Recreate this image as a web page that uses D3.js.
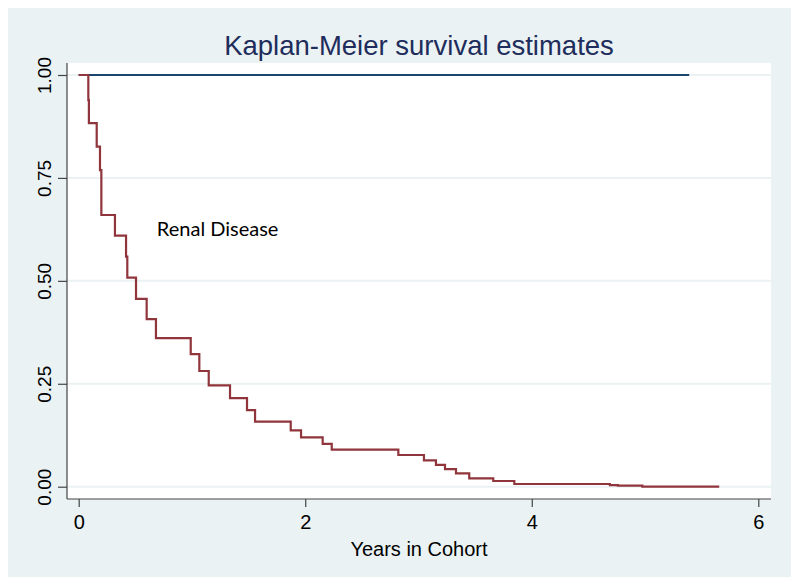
<!DOCTYPE html>
<html>
<head>
<meta charset="utf-8">
<script src="https://cdn.jsdelivr.net/npm/d3@7"></script>
<style>
  html, body { margin: 0; padding: 0; background: #ffffff; }
  svg { display: block; }
</style>
</head>
<body>
<svg id="chart" width="800" height="586"></svg>
<script>
// ---- Data ----
const title = "Kaplan-Meier survival estimates";
const xTitle = "Years in Cohort";
const xTicks = [0, 2, 4, 6];
const yTicks = [0, 0.25, 0.5, 0.75, 1];
const yTickLabels = ["0.00", "0.25", "0.50", "0.75", "1.00"];

// Renal Disease group: event times (years) and survival after each step
const renalTimes = [0, 0.085, 0.09, 0.159, 0.188, 0.20, 0.32, 0.418, 0.429, 0.506, 0.60, 0.682,
  0.989, 1.065, 1.148, 1.336, 1.486, 1.557, 1.872, 1.963, 2.154, 2.234, 2.822, 3.048,
  3.154, 3.234, 3.331, 3.448, 3.660, 3.846, 4.69, 4.76, 4.976, 5.655];
const renalSurv = [1, 0.939, 0.883, 0.826, 0.769, 0.66, 0.61, 0.559, 0.508, 0.456, 0.407, 0.361,
  0.322, 0.281, 0.246, 0.215, 0.186, 0.158, 0.137, 0.120, 0.104, 0.090, 0.077, 0.064,
  0.053, 0.0425, 0.0325, 0.0204, 0.0138, 0.0066, 0.004, 0.0024, 0.0, 0.0];
const renalLabel = "Renal Disease";
const renalLabelPos = [0.69, 0.609];

// Other group: no events
const otherTimes = [0, 5.39];
const otherSurv = [1, 1];

// ---- Layout ----
const svg = d3.select("#chart");
const bg = "#eaf2f3";
const plot = { left: 67, right: 771, top: 63, bottom: 499 };

const x = d3.scaleLinear().domain([0, 6]).range([78.7, 758.3]);
const y = d3.scaleLinear().domain([0, 1]).range([486.7, 75]);

// outer panel
svg.append("rect").attr("x", 8).attr("y", 8).attr("width", 783).attr("height", 569).attr("fill", bg);
// plot region
svg.append("rect").attr("x", plot.left).attr("y", plot.top)
  .attr("width", plot.right - plot.left).attr("height", plot.bottom - plot.top).attr("fill", "#ffffff");

// gridlines
svg.append("g").selectAll("line").data(yTicks).join("line")
  .attr("x1", plot.left).attr("x2", plot.right)
  .attr("y1", d => y(d)).attr("y2", d => y(d))
  .attr("stroke", bg).attr("stroke-width", 2);

// y axis
const yAxis = d3.axisLeft(y).tickValues(yTicks)
  .tickFormat((d, i) => yTickLabels[i]).tickSize(9).tickSizeOuter(0);
const gy = svg.append("g").attr("transform", `translate(${plot.left},0)`).call(yAxis);
gy.select(".domain").remove();
gy.append("line").attr("x1", 0).attr("x2", 0).attr("y1", plot.top).attr("y2", plot.bottom)
  .attr("stroke", "#444").attr("stroke-width", 1.2);
gy.selectAll(".tick line").attr("stroke", "#444").attr("stroke-width", 1.2);
gy.selectAll(".tick text")
  .attr("font-family", "Liberation Sans, Arial, sans-serif")
  .attr("font-size", 19).attr("fill", "#000")
  .attr("text-anchor", "middle")
  .attr("x", null).attr("y", null).attr("dy", null)
  .attr("transform", "translate(-16,0) rotate(-90)");

// x axis
const xAxis = d3.axisBottom(x).tickValues(xTicks).tickFormat(d3.format("d"))
  .tickSize(8).tickSizeOuter(0);
const gx = svg.append("g").attr("transform", `translate(0,${plot.bottom})`).call(xAxis);
gx.select(".domain").remove();
gx.append("line").attr("x1", plot.left).attr("x2", plot.right).attr("y1", 0).attr("y2", 0)
  .attr("stroke", "#444").attr("stroke-width", 1.2);
gx.selectAll(".tick line").attr("stroke", "#444").attr("stroke-width", 1.2);
gx.selectAll(".tick text")
  .attr("font-family", "Liberation Sans, Arial, sans-serif")
  .attr("font-size", 20).attr("fill", "#000")
  .attr("dy", null).attr("y", 30);

// series
const line = d3.line().x(d => x(d[0])).y(d => y(d[1])).curve(d3.curveStepAfter);
svg.append("path")
  .datum(otherTimes.map((t, i) => [t, otherSurv[i]]))
  .attr("d", line).attr("fill", "none").attr("stroke", "#1a476f").attr("stroke-width", 2.2);
svg.append("path")
  .datum(renalTimes.map((t, i) => [t, renalSurv[i]]))
  .attr("d", line).attr("fill", "none").attr("stroke", "#90353b").attr("stroke-width", 2.2);

// label
svg.append("text").attr("x", x(renalLabelPos[0])).attr("y", y(renalLabelPos[1]))
  .attr("font-family", "Lato, 'Open Sans', sans-serif").attr("font-size", 20).attr("fill", "#000")
  .text(renalLabel);

// titles
svg.append("text").attr("x", (plot.left + plot.right) / 2).attr("y", 55)
  .attr("text-anchor", "middle")
  .attr("font-family", "Liberation Sans, Arial, sans-serif").attr("font-size", 27.5)
  .attr("fill", "#1e2d5c").text(title);
svg.append("text").attr("x", (plot.left + plot.right) / 2).attr("y", 556)
  .attr("text-anchor", "middle")
  .attr("font-family", "Liberation Sans, Arial, sans-serif").attr("font-size", 20)
  .attr("fill", "#000").text(xTitle);
</script>
</body>
</html>
